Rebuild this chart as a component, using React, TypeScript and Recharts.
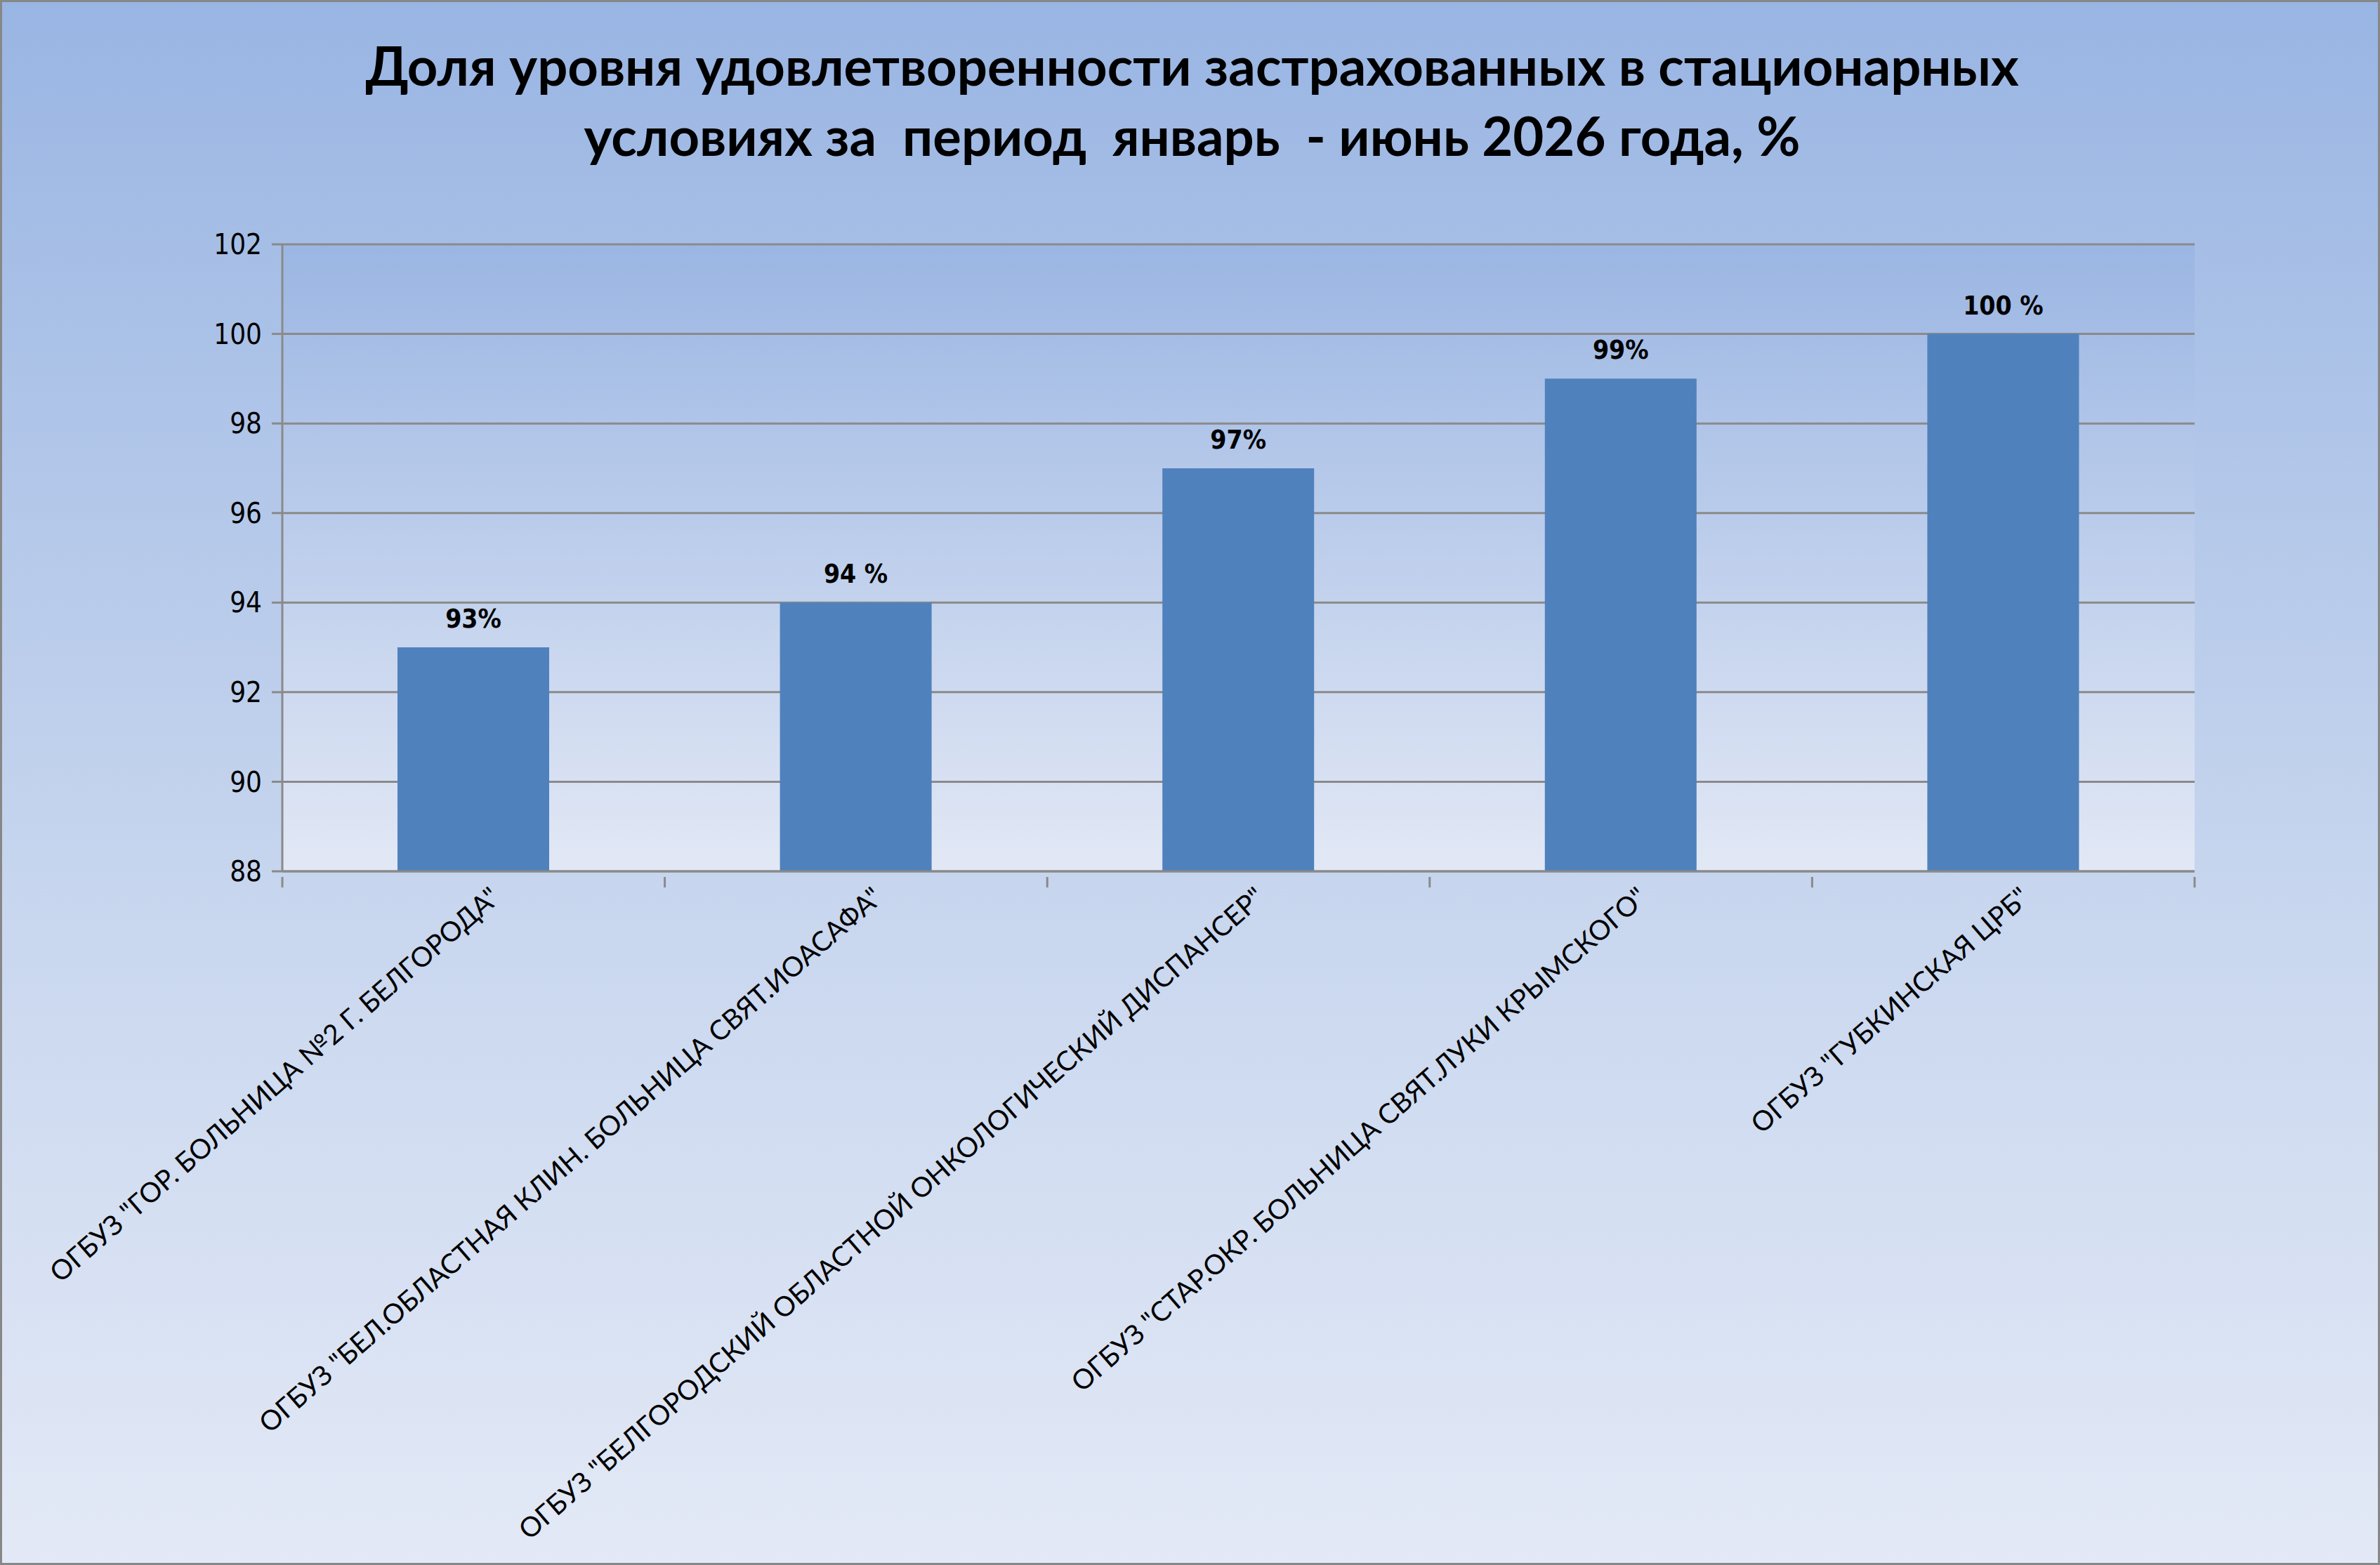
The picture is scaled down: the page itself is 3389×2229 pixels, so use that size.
import React from "react";
import { BarChart, Bar, XAxis, YAxis, CartesianGrid, LabelList } from "recharts";

const categories = [
  'ОГБУЗ "ГОР. БОЛЬНИЦА №2 Г. БЕЛГОРОДА"',
  'ОГБУЗ "БЕЛ.ОБЛАСТНАЯ КЛИН. БОЛЬНИЦА СВЯТ.ИОАСАФА"',
  'ОГБУЗ "БЕЛГОРОДСКИЙ ОБЛАСТНОЙ ОНКОЛОГИЧЕСКИЙ ДИСПАНСЕР"',
  'ОГБУЗ "СТАР.ОКР. БОЛЬНИЦА СВЯТ.ЛУКИ КРЫМСКОГО"',
  'ОГБУЗ "ГУБКИНСКАЯ ЦРБ"',
];
const values = [93, 94, 97, 99, 100];
const valueLabels = ["93%", "94 %", "97%", "99%", "100 %"];
const yTicks = [88, 90, 92, 94, 96, 98, 100, 102];

const data = categories.map((name, i) => ({ name, value: values[i], label: valueLabels[i] }));

const W = 3389;
const H = 2229;
const GRID = "#8a8a8a";

// rotated category label plus the small tick marks Excel puts between categories
function CategoryTick(props: any) {
  const { x, y, payload, index, visibleTicksCount } = props;
  const half = payload.offset || 272;
  const last = index === (visibleTicksCount ?? categories.length) - 1;
  return (
    <g>
      <line x1={x - half} x2={x - half} y1={y} y2={y + 15} stroke={GRID} strokeWidth={3} />
      {last && <line x1={x + half} x2={x + half} y1={y} y2={y + 15} stroke={GRID} strokeWidth={3} />}
      <g transform={`translate(${x + 32},${y + 24})`}>
        <text
          transform="rotate(-41)"
          textAnchor="end"
          dy={12}
          fontFamily="Lato, 'Noto Sans', sans-serif"
          fontSize={39}
          fill="#000"
        >
          {payload.value}
        </text>
      </g>
    </g>
  );
}

export default function App() {
  return (
    <div
      style={{
        position: "relative",
        width: W,
        height: H,
        boxSizing: "border-box",
        border: "3px solid #878787",
        background: "linear-gradient(to bottom, #99b5e3 0%, #c6d5ee 55%, #e3e9f6 100%)",
        overflow: "hidden",
      }}
    >
      <style>{`body{margin:0}`}</style>
      <div
        style={{
          position: "absolute",
          left: 0,
          top: 40,
          width: W,
          textAlign: "center",
          fontFamily: "Lato, 'Noto Sans', sans-serif",
          fontWeight: 700,
          fontSize: 76,
          lineHeight: "100px",
          color: "#000",
        }}
      >
        Доля уровня удовлетворенности застрахованных в стационарных
        <br />
        условиях за&nbsp; период&nbsp; январь&nbsp; - июнь 2026 года, %
      </div>
      <div style={{ position: "absolute", left: -3, top: -3 }}>
        <BarChart
          width={W}
          height={H}
          data={data}
          margin={{ top: 348, right: 264, bottom: 0, left: 0 }}
          barCategoryGap="30%"
        >
          <defs>
            <linearGradient id="plotGrad" x1="0" y1="0" x2="0" y2="1">
              <stop offset="0%" stopColor="#9bb6e3" />
              <stop offset="100%" stopColor="#e2e8f5" />
            </linearGradient>
          </defs>
          <CartesianGrid
            vertical={false}
            stroke={GRID}
            strokeWidth={3}
            fill="url(#plotGrad)"
            fillOpacity={1}
          />
          <XAxis
            dataKey="name"
            interval={0}
            tick={<CategoryTick />}
            tickLine={false}
            axisLine={{ stroke: GRID, strokeWidth: 3 }}
            height={988}
          />
          <YAxis
            domain={[88, 102]}
            ticks={yTicks}
            interval={0}
            width={402}
            tickSize={15}
            tickMargin={14}
            axisLine={{ stroke: GRID, strokeWidth: 3 }}
            tickLine={{ stroke: GRID, strokeWidth: 3 }}
            tick={{ fill: "#000", fontSize: 40, fontFamily: "'DejaVu Sans Condensed', 'DejaVu Sans', sans-serif" }}
            allowDataOverflow
          />
          <Bar dataKey="value" fill="#4f81bd" barSize={216} isAnimationActive={false}>
            <LabelList
              dataKey="label"
              position="top"
              offset={28}
              fill="#000"
              fontSize={37}
              fontWeight="bold"
              fontFamily="'DejaVu Sans Condensed', 'DejaVu Sans', sans-serif"
            />
          </Bar>
        </BarChart>
      </div>
    </div>
  );
}
